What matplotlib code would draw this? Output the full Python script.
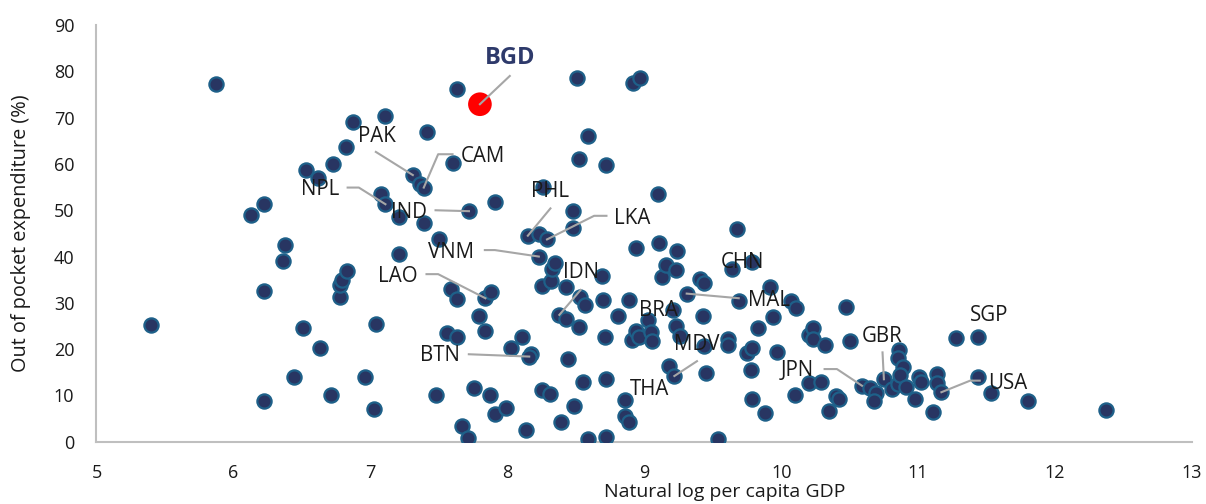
import matplotlib.pyplot as plt

# ln GDP per capita vs out-of-pocket health expenditure (%)
gdp = [5.40, 5.87, 6.13, 6.22, 6.22, 6.22, 6.36, 6.38, 6.44, 6.51,
       6.53, 6.62, 6.63, 6.71, 6.73, 6.78, 6.78, 6.79, 6.82, 6.83,
       6.87, 6.96, 7.03, 7.04, 7.08, 7.11, 7.11, 7.21, 7.21, 7.31,
       7.36, 7.39, 7.39, 7.41, 7.48, 7.50, 7.56, 7.59, 7.60, 7.63,
       7.63, 7.63, 7.67, 7.71, 7.72, 7.76, 7.79, 7.84, 7.84, 7.87,
       7.88, 7.91, 7.91, 7.99, 8.03, 8.11, 8.14, 8.15, 8.17, 8.16,
       8.23, 8.23, 8.25, 8.25, 8.26, 8.29, 8.31, 8.32, 8.33, 8.35,
       8.38, 8.39, 8.43, 8.44, 8.43, 8.48, 8.48, 8.49, 8.51, 8.52,
       8.52, 8.53, 8.55, 8.57, 8.59, 8.59, 8.69, 8.70, 8.71, 8.72,
       8.72, 8.72, 8.81, 8.86, 8.86, 8.89, 8.89, 8.91, 8.92, 8.94,
       8.94, 8.96, 8.97, 9.03, 9.05, 9.06, 9.10, 9.11, 9.13, 9.16,
       9.18, 9.21, 9.22, 9.23, 9.23, 9.24, 9.26, 9.31, 9.41, 9.44,
       9.43, 9.44, 9.45, 9.54, 9.61, 9.61, 9.64, 9.68, 9.69, 9.75,
       9.78, 9.79, 9.79, 9.79, 9.83, 9.88, 9.92, 9.94, 9.97, 10.07,
       10.11, 10.10, 10.20, 10.20, 10.23, 10.23, 10.29, 10.32, 10.35, 10.40,
       10.42, 10.47, 10.50, 10.59, 10.65, 10.69, 10.68, 10.75, 10.81, 10.85,
       10.86, 10.85, 10.89, 10.87, 10.91, 10.98, 11.01, 11.02, 11.11, 11.14,
       11.14, 11.17, 11.28, 11.44, 11.44, 11.53, 11.80, 12.37]
oop = [25.3, 77.3, 48.9, 51.3, 32.6, 8.8, 39.0, 42.5, 14.0, 24.6,
       58.8, 57.0, 20.3, 10.0, 60.0, 31.2, 33.9, 35.0, 63.6, 36.9,
       69.0, 14.0, 7.0, 25.5, 53.5, 51.3, 70.3, 48.6, 40.5, 57.6,
       55.7, 54.9, 47.3, 67.0, 10.2, 43.8, 23.4, 33.1, 60.3, 76.2,
       30.8, 22.7, 3.5, 0.8, 49.8, 11.6, 27.2, 31.0, 24.0, 10.2,
       32.4, 51.7, 5.9, 7.2, 20.3, 22.7, 2.6, 44.5, 18.9, 18.4,
       44.9, 40.0, 33.7, 11.2, 55.0, 43.7, 10.3, 34.8, 37.4, 38.6,
       27.4, 4.2, 33.5, 17.9, 26.6, 49.9, 46.2, 7.7, 78.6, 61.0,
       24.8, 31.3, 13.0, 29.5, 66.0, 0.5, 35.8, 30.6, 22.7, 13.5,
       1.1, 59.8, 27.2, 9.0, 5.5, 4.2, 30.6, 22.0, 77.4, 41.8,
       23.9, 22.6, 78.6, 26.3, 23.6, 21.7, 53.6, 42.9, 35.6, 38.2,
       16.3, 28.5, 14.2, 37.0, 25.0, 41.3, 22.8, 32.0, 35.2, 34.2,
       27.2, 20.7, 14.9, 0.7, 22.1, 20.9, 37.3, 45.9, 30.3, 19.1,
       15.4, 20.3, 38.8, 9.3, 24.6, 6.2, 33.5, 26.9, 19.3, 30.3,
       28.9, 10.1, 23.0, 12.6, 24.6, 22.1, 12.8, 20.9, 6.6, 9.9,
       9.2, 29.0, 21.8, 12.1, 11.7, 10.5, 8.9, 13.5, 11.5, 12.5,
       19.9, 18.0, 16.1, 14.4, 11.8, 9.3, 13.9, 13.0, 6.5, 14.6,
       12.6, 10.7, 22.5, 22.6, 13.9, 10.6, 8.9, 6.8]

bgd_gdp, bgd_oop = 7.80, 72.9

# labelled countries and the points they point to
names = ["PAK", "CAM", "NPL", "IND", "PHL", "LKA", "VNM", "LAO", "IDN", "BTN",
         "BRA", "CHN", "MAL", "MDV", "THA", "JPN", "GBR", "SGP", "USA"]
name_x = [7.31, 7.39, 7.11, 7.72, 8.15, 8.29, 8.23, 7.84, 8.38, 8.16,
          9.06, 9.64, 9.31, 9.22, 8.86, 10.59, 10.75, 11.44, 11.17]
name_y = [57.6, 54.9, 51.3, 49.8, 44.5, 43.7, 40.0, 31.0, 27.4, 18.4,
          23.6, 37.3, 32.0, 14.2, 9.0, 12.1, 13.5, 22.6, 10.7]

# label text positions (data coords)
text_pos = {"PAK": (7.045, 66.0), "CAM": (7.82, 61.7), "NPL": (6.63, 54.5),
            "IND": (7.28, 49.5), "PHL": (8.315, 54.0), "LKA": (8.91, 48.2),
            "VNM": (7.59, 40.8), "LAO": (7.20, 35.6), "IDN": (8.536, 36.5),
            "BTN": (7.51, 18.6), "BRA": (9.106, 28.3), "CHN": (9.717, 38.7),
            "MAL": (9.91, 30.6), "MDV": (9.38, 20.9), "THA": (9.04, 11.2),
            "JPN": (10.12, 15.3), "GBR": (10.74, 22.8), "SGP": (11.52, 27.2),
            "USA": (11.655, 12.6)}
# leader line vertices from label side toward the point
leaders = {"PAK": [(7.04, 62.6)], "CAM": [(7.60, 62.1), (7.495, 62.1)],
           "NPL": [(6.834, 54.9), (6.916, 54.9)], "IND": [(7.476, 50.0)],
           "PHL": [(8.315, 50.4)], "LKA": [(8.724, 48.8), (8.634, 48.8)],
           "VNM": [(7.836, 41.4), (7.909, 41.4)], "LAO": [(7.41, 36.2), (7.495, 36.2)],
           "IDN": [(8.536, 32.8)], "BTN": [(7.719, 18.9)], "MAL": [(9.69, 31.0)],
           "MDV": [(9.385, 17.4)], "JPN": [(10.317, 15.7), (10.407, 15.7)],
           "GBR": [(10.74, 19.3)], "USA": [(11.45, 13.2), (11.38, 13.2)]}

fnt = ['Open Sans', 'DejaVu Sans']
plt.rcParams['font.family'] = fnt

fig = plt.figure(figsize=(12.06, 5.04), dpi=100)
ax = fig.add_axes([0.0800, 0.1235, 0.9084, 0.8268])

ax.scatter(gdp, oop, s=105, c='#283562', edgecolors='#1E6089', linewidths=1.6, zorder=3)
ax.scatter([bgd_gdp], [bgd_oop], s=290, c='#FF0000', edgecolors='none', zorder=4)

lc = '#A6A6A6'
for n, px, py in zip(names, name_x, name_y):
    tx, ty = text_pos[n]
    ax.text(tx, ty, n, fontsize=14.8, ha='center', va='center', color='#1a1a1a', zorder=6)
    if n in leaders:
        pts = leaders[n] + [(px, py)]
        ax.plot([p[0] for p in pts], [p[1] for p in pts], color=lc, lw=1.5, zorder=5)

ax.text(8.018, 82.8, "BGD", fontsize=17, fontweight='bold', ha='center', va='center',
        color='#2E3A6B', zorder=6)
ax.plot([8.018, bgd_gdp], [79.0, bgd_oop], color=lc, lw=1.5, zorder=5)

ax.set_xlim(5, 13)
ax.set_ylim(0, 90)
ax.set_xticks(range(5, 14))
ax.set_yticks(range(0, 91, 10))
ax.tick_params(length=0, labelsize=13, colors='#1a1a1a')
ax.tick_params(axis='x', pad=16)
ax.tick_params(axis='y', pad=16)
for s in ['top', 'right']:
    ax.spines[s].set_visible(False)
for s in ['left', 'bottom']:
    ax.spines[s].set_color('#BFBFBF')
    ax.spines[s].set_linewidth(1.5)

ax.set_xlabel("Natural log per capita GDP", fontsize=14, color='#1a1a1a')
ax.xaxis.set_label_coords(0.573, -0.121)
ax.xaxis.label.set_va('center')
ax.set_ylabel("Out of pocket expenditure (%)", fontsize=14.3, color='#1a1a1a')
ax.yaxis.set_label_coords(-0.069, 0.5)
ax.yaxis.label.set_va('center')

fig.savefig("out.png", dpi=100)
